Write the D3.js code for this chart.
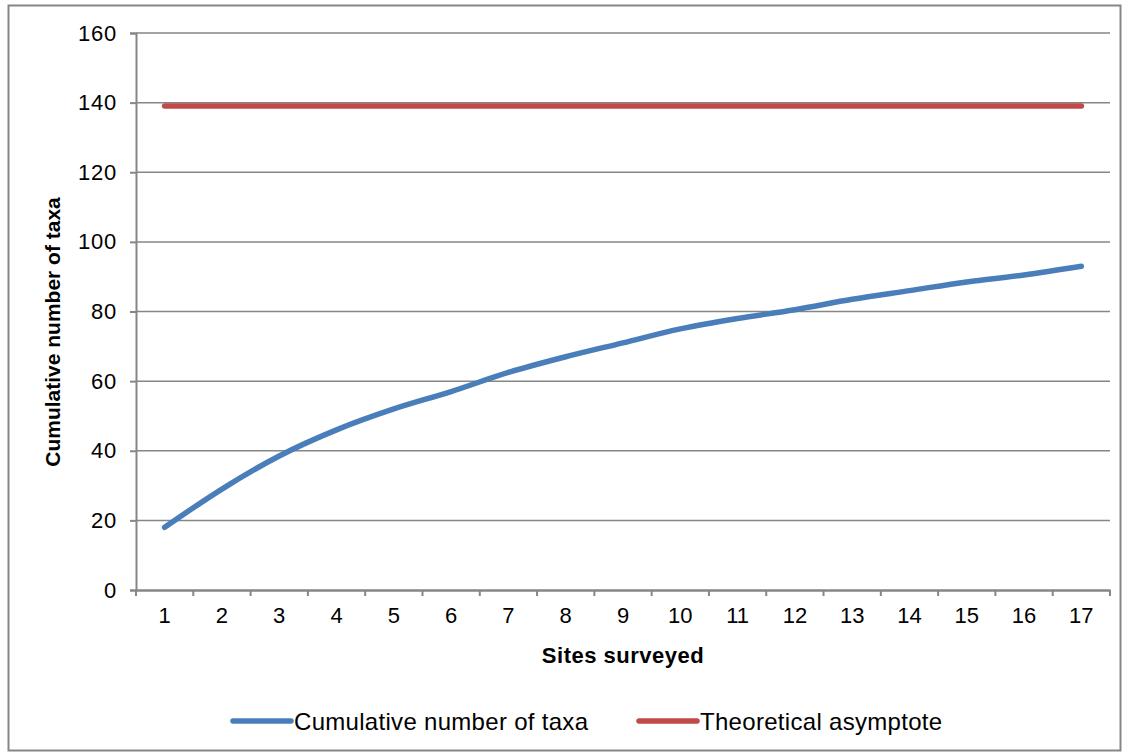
<!DOCTYPE html>
<html>
<head>
<meta charset="utf-8">
<script src="https://cdn.jsdelivr.net/npm/d3@7"></script>
<style>
  html, body { margin: 0; padding: 0; background: #fff; }
  svg { display: block; }
  text { font-family: "Liberation Sans", Arial, sans-serif; fill: #000; }
</style>
</head>
<body>
<svg id="chart" width="1129" height="755"></svg>
<script>
// ---- data ----
const sites = [1, 2, 3, 4, 5, 6, 7, 8, 9, 10, 11, 12, 13, 14, 15, 16, 17];
const cumulativeTaxa = [18, 29, 38.5, 46, 52, 57, 62.5, 67, 71, 75, 78, 80.5, 83.5, 86, 88.5, 90.5, 93];
const asymptote = [139, 139, 139, 139, 139, 139, 139, 139, 139, 139, 139, 139, 139, 139, 139, 139, 139];
const yTicks = [0, 20, 40, 60, 80, 100, 120, 140, 160];
const seriesNames = ["Cumulative number of taxa", "Theoretical asymptote"];
const seriesColors = ["#4a7ebb", "#be4b48"];
const xTitle = "Sites surveyed";
const yTitle = "Cumulative number of taxa";

// ---- layout ----
const svg = d3.select("#chart");
const L = 136, R = 1110, T = 33, B = 590;
const gridColor = "#868686";
const FONT = "Liberation Sans, Arial, sans-serif";

svg.append("rect")
  .attr("x", 8.5).attr("y", 5.5).attr("width", 1112).attr("height", 745)
  .attr("fill", "#fff").attr("stroke", "#868686").attr("stroke-width", 2);

const x = d3.scaleBand().domain(sites).range([L, R]).padding(0);
const y = d3.scaleLinear().domain([0, 160]).range([B, T]);

// gridlines
svg.append("g").selectAll("line").data(yTicks.filter(d => d > 0)).join("line")
  .attr("x1", L).attr("x2", R)
  .attr("y1", d => y(d)).attr("y2", d => y(d))
  .attr("stroke", gridColor).attr("stroke-width", 1.5);

// y axis
const yAxis = svg.append("g").attr("transform", `translate(${L},0)`)
  .call(d3.axisLeft(y).tickValues(yTicks).tickSize(6).tickPadding(13));
yAxis.select(".domain").attr("stroke", gridColor).attr("stroke-width", 2);
yAxis.selectAll(".tick line").attr("stroke", gridColor).attr("stroke-width", 2);
yAxis.selectAll(".tick text").attr("font-size", 22).attr("font-family", FONT)
  .attr("fill", "#000").attr("letter-spacing", 0.8);

// x axis
const xAxis = svg.append("g").attr("transform", `translate(0,${B})`)
  .call(d3.axisBottom(x).tickSize(0).tickPadding(17));
xAxis.select(".domain").attr("stroke", gridColor).attr("stroke-width", 2.5);
xAxis.selectAll(".tick text").attr("font-size", 22).attr("font-family", FONT).attr("fill", "#000");
// band-boundary tick marks
const bounds = sites.map(s => x(s)).concat([x(sites[sites.length - 1]) + x.bandwidth()]);
svg.append("g").selectAll("line").data(bounds).join("line")
  .attr("x1", d => d).attr("x2", d => d)
  .attr("y1", B).attr("y2", B + 6)
  .attr("stroke", gridColor).attr("stroke-width", 2);

// series
const cx = d => x(d) + x.bandwidth() / 2;
const line = d3.line().x(d => cx(d[0])).y(d => y(d[1])).curve(d3.curveMonotoneX);

svg.append("path")
  .datum(sites.map((s, i) => [s, asymptote[i]]))
  .attr("d", line).attr("fill", "none")
  .attr("stroke", seriesColors[1]).attr("stroke-width", 5.5).attr("stroke-linecap", "round");

svg.append("path")
  .datum(sites.map((s, i) => [s, cumulativeTaxa[i]]))
  .attr("d", line).attr("fill", "none")
  .attr("stroke", seriesColors[0]).attr("stroke-width", 5.5)
  .attr("stroke-linecap", "round").attr("stroke-linejoin", "round");

// axis titles
svg.append("text").attr("x", (L + R) / 2).attr("y", 663)
  .attr("text-anchor", "middle").attr("font-size", 22).attr("font-weight", "bold")
  .attr("letter-spacing", 0.5)
  .text(xTitle);
svg.append("text")
  .attr("transform", `translate(60,${332}) rotate(-90)`)
  .attr("text-anchor", "middle").attr("font-size", 21).attr("font-weight", "bold")
  .text(yTitle);

// legend
const legendItems = [
  { name: seriesNames[0], color: seriesColors[0], x0: 233 },
  { name: seriesNames[1], color: seriesColors[1], x0: 639 }
];
const lg = svg.append("g");
legendItems.forEach(it => {
  lg.append("line").attr("x1", it.x0).attr("x2", it.x0 + 58)
    .attr("y1", 721).attr("y2", 721)
    .attr("stroke", it.color).attr("stroke-width", 5.5).attr("stroke-linecap", "round");
  lg.append("text").attr("x", it.x0 + 61).attr("y", 729.5)
    .attr("font-size", 24).attr("letter-spacing", 0.3).text(it.name);
});
</script>
</body>
</html>
